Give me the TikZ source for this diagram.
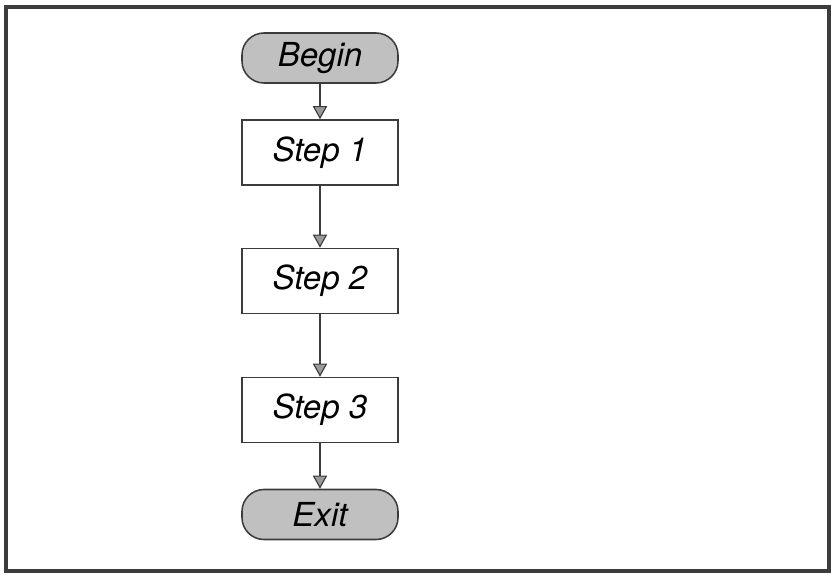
\documentclass[tikz,border=0pt]{standalone}
\usepackage{fontspec}
\setmainfont{TeX Gyre Heros}
\usepackage{tikz}
\usetikzlibrary{arrows.meta}
\definecolor{flowgray}{RGB}{60, 60, 60}
\definecolor{dotgray}{RGB}{192, 192, 192}

\begin{document}
\begin{tikzpicture}[
    x=0.025cm, y=-0.025cm,
    terminal/.style={rectangle, draw=flowgray, line width=1.1pt, fill=dotgray, rounded corners=0.55cm, minimum width=3.9cm, minimum height=1.25cm, font=\fontsize{23.5pt}{27pt}\selectfont\itshape},
    stepbox/.style={rectangle, draw=flowgray, line width=1.1pt, fill=white, minimum width=3.9cm, minimum height=1.625cm, font=\fontsize{23.5pt}{27pt}\selectfont\itshape},
    arrow/.style={-{Triangle[length=0.33cm, width=0.36cm, fill=gray!80]}, line width=0.8pt, flowgray}
]

    % Page and frame
    \useasboundingbox (0,0) rectangle (831,574);
    \draw[flowgray, line width=2.4pt] (6,7) rectangle (829,571);

    % Flow chart
    \node[terminal] (begin) at (320,58) {Begin};
    \node[stepbox] (step1) at (320,152.5) {Step 1};
    \node[stepbox] (step2) at (320,281) {Step 2};
    \node[stepbox] (step3) at (320,410) {Step 3};
    \node[terminal] (exit) at (320,514.5) {Exit};

    \draw[arrow] (begin.south) -- (step1.north);
    \draw[arrow] (step1.south) -- (step2.north);
    \draw[arrow] (step2.south) -- (step3.north);
    \draw[arrow] (step3.south) -- (exit.north);

\end{tikzpicture}
\end{document}
